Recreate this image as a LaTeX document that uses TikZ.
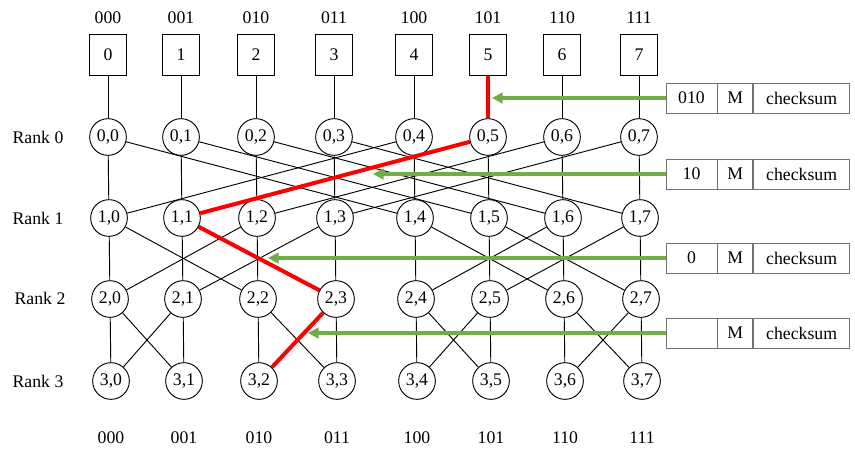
\documentclass[tikz,border=0pt]{standalone}
\usepackage{fontspec}
\setmainfont{Liberation Serif}
\usetikzlibrary{arrows.meta,positioning}
\definecolor{msggreen}{RGB}{112,173,71}
\tikzset{
  pe/.style={circle,draw,line width=0.7pt,minimum size=27.5pt,inner sep=0pt},
  proc/.style={rectangle,draw,line width=0.7pt,minimum width=28pt,minimum height=30.5pt,inner sep=0pt},
  wire/.style={line width=0.7pt},
  route/.style={line width=3pt,color=red},
  msg/.style={rectangle,draw=black!55,line width=0.6pt,minimum height=22.5pt,inner sep=0pt},
  hint/.style={line width=2.3pt,color=msggreen,-{Triangle[length=8pt,width=8pt]}}
}

\begin{document}
\begin{tikzpicture}[x=0.75pt,y=-0.75pt,font=\fontsize{13.3}{15}\selectfont]
			%%%%% START %%%%%
			\useasboundingbox (0,0) rectangle (855,455);
			
			% processors, addresses and switches
			\foreach \c/\x/\bits in {0/108/000,1/181/001,2/256/010,3/334/011,4/414/100,5/488/101,6/562/110,7/639/111} {
				\node (top\c) at (\x,18) {\bits};
				\node (bot\c) at (\x+3,438) {\bits};
				\node[proc] (b\c) at (\x,55) {\c};
				\foreach \r/\y/\dx in {0/137/0,1/218/1,2/299/2,3/381/3}
					\node[pe] (n\r\c) at (\x+\dx,\y) {\r,\c};
			}
			
			\node (rank0) at (38,137) {Rank 0};
			\node (rank1) at (38,218) {Rank 1};
			\node (rank2) at (40,298) {Rank 2};
			\node (rank3) at (38,381) {Rank 3};
			
			% butterfly wires
			\foreach \c in {0,...,7}
				\draw[wire] (b\c) -- (n0\c);
			\foreach \r/\b in {0/4,1/2,2/1} {
				\pgfmathtruncatemacro{\s}{\r+1}
				\foreach \c in {0,...,7} {
					\pgfmathtruncatemacro{\p}{mod(floor(\c/\b),2)==0 ? \c+\b : \c-\b}
					\draw[wire] (n\r\c) -- (n\s\c);
					\draw[wire] (n\r\c) -- (n\s\p);
				}
			}
			
			% route of the message
			\draw[route] (b5) -- (n05);
			\draw[route] (n05) -- (n11);
			\draw[route] (n11) -- (n23);
			\draw[route] (n23) -- (n32);
			
			% message headers
			\foreach \k/\y/\addr in {0/98/010,1/174/10,2/258/0,3/333/{}} {
				\node[msg,minimum width=38.25pt] (adr\k) at (691.5,\y) {\addr};
				\node[msg,minimum width=26.25pt,right=0pt of adr\k] (m\k) {M};
				\node[msg,minimum width=72pt,right=0pt of m\k] (sum\k) {checksum};
			}
			
			\coordinate (tip0) at (492,98);
			\coordinate (tip1) at (373,174);
			\coordinate (tip2) at (268,258);
			\coordinate (tip3) at (308,333);
			\foreach \k in {0,...,3}
				\draw[hint] (adr\k.west) -- (tip\k);
			
			%%%%% END %%%%%
\end{tikzpicture}
\end{document}
